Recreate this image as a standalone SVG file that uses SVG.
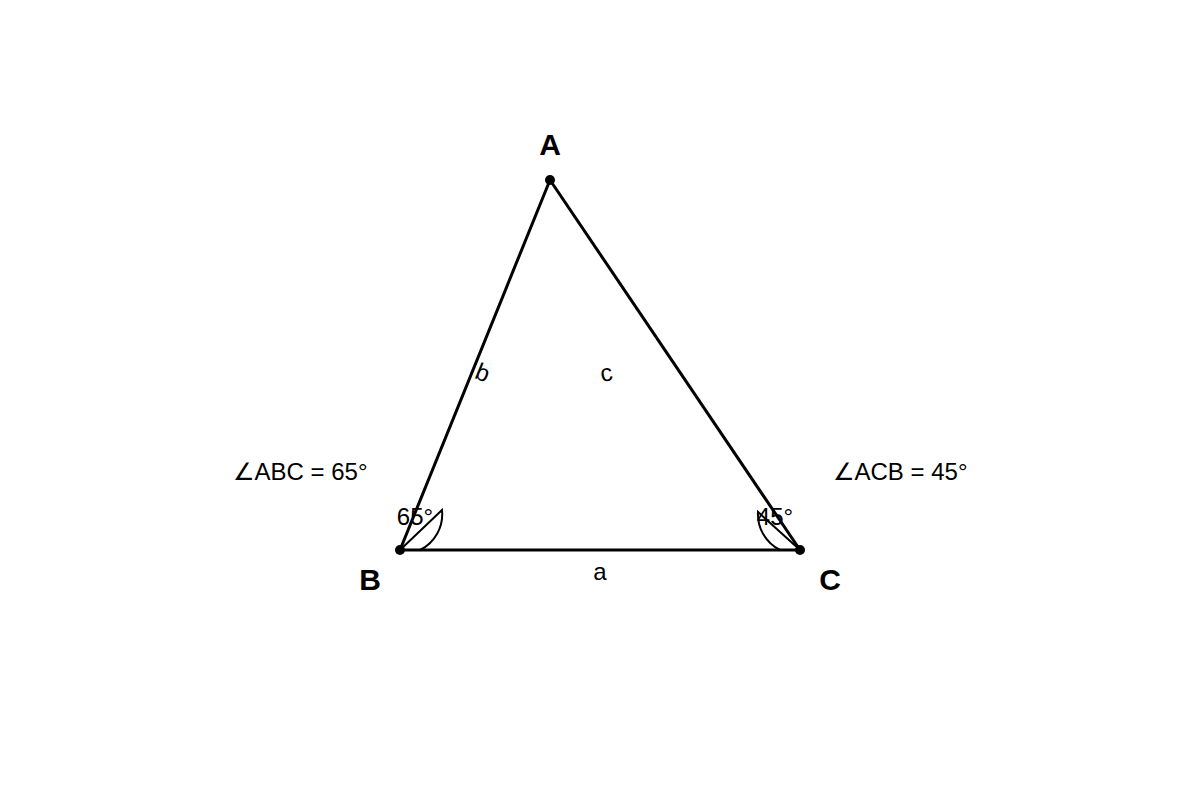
<svg xmlns="http://www.w3.org/2000/svg" width="1200" height="800" viewBox="0 0 1200 800">
<style>
.edge{stroke:#000;stroke-width:3;fill:none}
.arc{stroke:#000;stroke-width:2;fill:none}
.v{font-family:"Liberation Sans",Arial,sans-serif;font-weight:bold;font-size:30px;fill:#000;text-anchor:middle}
.t{font-family:"Liberation Sans",Arial,sans-serif;font-size:24px;fill:#000;text-anchor:middle}
</style>
<rect width="1200" height="800" fill="#fff"/>
<g id="connectors">
<line class="edge" x1="550" y1="180" x2="400" y2="550"/>
<line class="edge" x1="550" y1="180" x2="800" y2="550"/>
<line class="edge" x1="400" y1="550" x2="800" y2="550"/>
<path class="arc" d="M400 550 L442 510 A40 40 0 0 1 420 550"/>
<path class="arc" d="M800 550 L758 512 A40 40 0 0 0 780 550"/>
<text class="t" x="483" y="381" transform="rotate(22 483 372)">b</text>
<text class="t" x="606" y="381" transform="rotate(-10 606 372)">c</text>
<text class="t" x="600" y="580">a</text>
</g>
<g id="A"><circle cx="550" cy="180" r="5"/><text class="v" x="550" y="155">A</text></g>
<g id="B"><circle cx="400" cy="550" r="5"/><text class="v" x="370" y="590">B</text></g>
<g id="C"><circle cx="800" cy="550" r="5"/><text class="v" x="830" y="590">C</text></g>
<g id="angleB"><text class="t" x="415" y="525">65°</text><text class="t" x="300" y="480">∠ABC = 65°</text></g>
<g id="angleC"><text class="t" x="775" y="525">45°</text><text class="t" x="900" y="480">∠ACB = 45°</text></g>
</svg>
